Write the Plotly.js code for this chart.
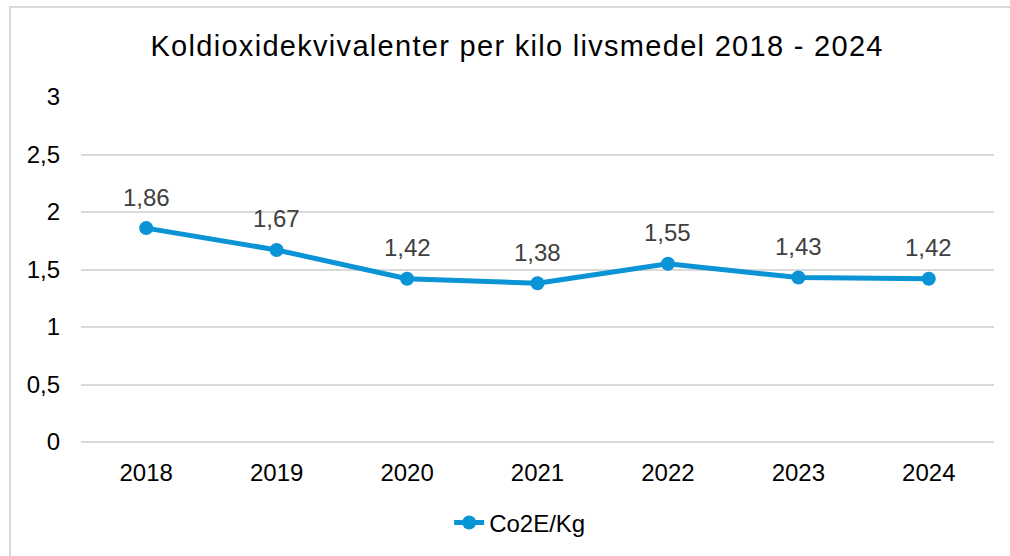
<!DOCTYPE html>
<html>
<head>
<meta charset="utf-8">
<script src="https://cdn.plot.ly/plotly-3.0.1.min.js"></script>
<style>
  html, body { margin: 0; padding: 0; background: #fff; }
  #chart { position: absolute; left: 0; top: 0; width: 1010px; height: 556px; }
  #frame { position: absolute; left: 9px; top: 6px; width: 1010px; height: 560px;
           border: 2px solid #D9D9D9; box-sizing: border-box; pointer-events: none; }
  .gtitle { letter-spacing: 1.3px; }
</style>
</head>
<body>
<div id="chart"></div>
<div id="frame"></div>
<script>
const years = ['2018', '2019', '2020', '2021', '2022', '2023', '2024'];
const co2eValues = [1.86, 1.67, 1.42, 1.38, 1.55, 1.43, 1.42];
const seriesName = 'Co2E/Kg';
const yTicks = [0, 0.5, 1, 1.5, 2, 2.5, 3];
const chartTitle = 'Koldioxidekvivalenter per kilo livsmedel 2018 - 2024';

const fmt = v => String(v).replace('.', ',');
const lineColor = '#0A94D6';
const font = 'Liberation Sans, Arial, sans-serif';

const trace = {
  x: years,
  y: co2eValues,
  name: seriesName,
  type: 'scatter',
  mode: 'lines+markers',
  line: { color: lineColor, width: 5 },
  marker: { color: lineColor, size: 14 },
  hoverinfo: 'x+y'
};

// category axis: annotation x is the category index
const annotations = years.map((yr, i) => ({
  x: i, y: co2eValues[i], xref: 'x', yref: 'y',
  text: fmt(co2eValues[i]), showarrow: false,
  yanchor: 'middle', yshift: 31,
  font: { family: font, size: 24, color: '#404040' }
}));

const layout = {
  width: 1010, height: 556,
  margin: { l: 81, r: 16, t: 97, b: 113 },
  paper_bgcolor: '#fff', plot_bgcolor: '#fff',
  separators: ', ',
  font: { family: font, size: 24, color: '#000' },
  title: {
    text: chartTitle,
    xref: 'container', x: 0.512, xanchor: 'center',
    yref: 'container', y: 0.917, yanchor: 'middle',
    font: { family: font, size: 29, color: '#000' }
  },
  xaxis: {
    type: 'category',
    range: [-0.5, 6.5],
    showgrid: false, zeroline: false, showline: false,
    ticks: '', ticklabelstandoff: 14,
    tickfont: { family: font, size: 24, color: '#000' },
    fixedrange: true
  },
  yaxis: {
    range: [0, 3],
    tickvals: yTicks,
    ticktext: yTicks.map(fmt),
    showgrid: true, gridcolor: '#D9D9D9', gridwidth: 2,
    zeroline: true, zerolinecolor: '#D9D9D9', zerolinewidth: 2,
    showline: false, ticks: '', ticklabelstandoff: 20,
    tickfont: { family: font, size: 24, color: '#000' },
    fixedrange: true
  },
  showlegend: true,
  legend: {
    orientation: 'h',
    x: 0.481, xanchor: 'center',
    y: -0.231, yanchor: 'middle',
    font: { family: font, size: 24, color: '#000' },
    bgcolor: 'rgba(0,0,0,0)'
  },
  annotations: annotations
};

Plotly.newPlot('chart', [trace], layout, { displayModeBar: false, staticPlot: true });
</script>
</body>
</html>
